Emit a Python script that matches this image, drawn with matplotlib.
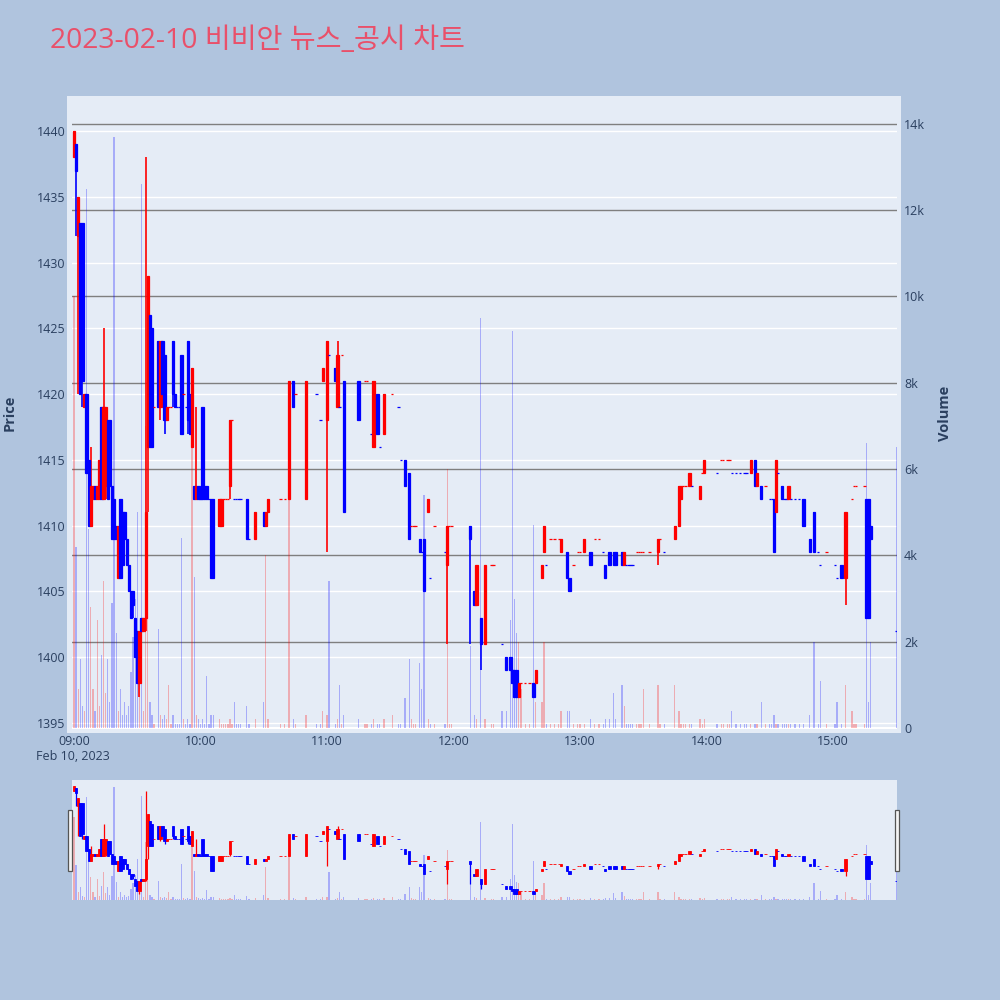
import matplotlib
matplotlib.use('Agg')
import matplotlib.pyplot as plt
from matplotlib.patches import Rectangle
from matplotlib.lines import Line2D
from matplotlib.transforms import blended_transform_factory
import numpy as np
import pandas as pd

plt.rcParams['font.family'] = ['Open Sans', 'Noto Sans CJK KR', 'DejaVu Sans']

# 1분봉 (09:00 기준 분 단위)
candle_min = [0, 1, 2, 3, 4, 5, 6, 7, 8, 9,
              10, 11, 12, 13, 14, 15, 16, 17, 18, 19,
              20, 21, 22, 23, 24, 25, 26, 27, 28, 29,
              30, 31, 32, 33, 34, 35, 36, 37, 40, 41,
              42, 43, 44, 47, 48, 51, 54, 55, 56, 57,
              58, 59, 61, 62, 63, 65, 66, 69, 70, 74,
              82, 86, 90, 91, 92, 102, 104, 110, 118, 120,
              124, 125, 128, 135, 142, 144, 147, 157, 159, 164,
              166, 168, 177, 188, 190, 191, 193, 195, 205, 207,
              208, 209, 210, 211, 218, 219, 222, 223, 231, 234,
              235, 242, 245, 252, 254, 256, 257, 260, 261, 277,
              285, 287, 288, 292, 297, 299, 321, 323, 324, 326,
              332, 333, 336, 339, 346, 349, 351, 364, 366, 376,
              377, 378]
candle_open = [1438, 1439, 1432, 1433, 1433, 1419, 1420, 1415, 1410, 1412,
               1413, 1412, 1412, 1419, 1412, 1413, 1418, 1418, 1413, 1412,
               1410, 1406, 1412, 1411, 1411, 1409, 1407, 1405, 1405, 1403,
               1402, 1398, 1403, 1402, 1403, 1416, 1426, 1425, 1424, 1419,
               1424, 1423, 1418, 1424, 1420, 1423, 1424, 1420, 1416, 1413,
               1412, 1413, 1419, 1413, 1413, 1412, 1412, 1410, 1410, 1413,
               1412, 1409, 1411, 1410, 1411, 1412, 1421, 1412, 1421, 1418,
               1422, 1419, 1421, 1421, 1416, 1420, 1417, 1415, 1414, 1409,
               1409, 1411, 1407, 1410, 1405, 1404, 1403, 1401, 1400, 1400,
               1399, 1399, 1399, 1397, 1398, 1398, 1406, 1408, 1408, 1408,
               1406, 1408, 1408, 1407, 1408, 1408, 1408, 1408, 1407, 1408,
               1409, 1410, 1412, 1413, 1412, 1414, 1414, 1415, 1413, 1413,
               1412, 1411, 1413, 1412, 1412, 1409, 1411, 1407, 1406, 1412,
               1412, 1410]
candle_high = [1440, 1439, 1435, 1433, 1433, 1420, 1420, 1415, 1416, 1413,
               1413, 1413, 1415, 1419, 1425, 1419, 1418, 1418, 1413, 1412,
               1410, 1410, 1412, 1411, 1411, 1409, 1407, 1405, 1405, 1403,
               1402, 1402, 1403, 1403, 1438, 1429, 1426, 1425, 1424, 1424,
               1424, 1423, 1419, 1424, 1420, 1423, 1424, 1420, 1422, 1413,
               1419, 1413, 1419, 1413, 1413, 1412, 1412, 1412, 1412, 1418,
               1412, 1411, 1411, 1411, 1412, 1421, 1421, 1421, 1422, 1424,
               1422, 1424, 1421, 1421, 1421, 1420, 1420, 1415, 1414, 1409,
               1409, 1412, 1410, 1410, 1405, 1407, 1403, 1407, 1400, 1400,
               1399, 1399, 1399, 1398, 1398, 1399, 1407, 1410, 1409, 1408,
               1406, 1409, 1408, 1407, 1408, 1408, 1408, 1408, 1408, 1409,
               1410, 1413, 1413, 1414, 1413, 1415, 1415, 1415, 1414, 1413,
               1412, 1415, 1413, 1413, 1412, 1409, 1411, 1407, 1411, 1412,
               1412, 1410]
candle_low = [1438, 1432, 1420, 1420, 1419, 1419, 1414, 1410, 1410, 1412,
              1412, 1412, 1412, 1412, 1412, 1412, 1412, 1413, 1409, 1409,
              1409, 1406, 1406, 1407, 1409, 1407, 1405, 1403, 1403, 1400,
              1398, 1397, 1402, 1402, 1402, 1411, 1416, 1416, 1419, 1418,
              1420, 1417, 1418, 1419, 1419, 1417, 1417, 1417, 1416, 1412,
              1412, 1412, 1412, 1412, 1412, 1406, 1406, 1410, 1410, 1412,
              1409, 1409, 1410, 1410, 1411, 1412, 1419, 1412, 1421, 1408,
              1421, 1419, 1411, 1418, 1416, 1417, 1417, 1413, 1409, 1408,
              1405, 1411, 1401, 1401, 1404, 1404, 1399, 1401, 1399, 1399,
              1398, 1397, 1397, 1397, 1397, 1398, 1406, 1408, 1408, 1406,
              1405, 1408, 1407, 1406, 1407, 1407, 1407, 1407, 1407, 1407,
              1409, 1410, 1412, 1413, 1412, 1414, 1414, 1413, 1413, 1412,
              1408, 1411, 1412, 1412, 1410, 1408, 1408, 1406, 1404, 1403,
              1403, 1409]
candle_close = [1440, 1437, 1435, 1420, 1421, 1420, 1414, 1410, 1413, 1413,
                1412, 1413, 1415, 1412, 1419, 1419, 1412, 1413, 1409, 1409,
                1409, 1410, 1406, 1407, 1409, 1407, 1405, 1403, 1404, 1400,
                1398, 1402, 1402, 1403, 1411, 1429, 1416, 1416, 1419, 1424,
                1420, 1418, 1419, 1420, 1419, 1417, 1418, 1417, 1422, 1412,
                1413, 1412, 1412, 1412, 1412, 1406, 1406, 1412, 1412, 1418,
                1409, 1411, 1410, 1411, 1412, 1421, 1419, 1421, 1422, 1424,
                1421, 1423, 1411, 1418, 1421, 1417, 1420, 1413, 1409, 1408,
                1405, 1412, 1410, 1409, 1404, 1407, 1401, 1407, 1399, 1399,
                1398, 1397, 1397, 1398, 1397, 1399, 1407, 1410, 1409, 1406,
                1405, 1409, 1407, 1406, 1407, 1407, 1407, 1407, 1408, 1409,
                1410, 1413, 1413, 1414, 1413, 1415, 1415, 1413, 1414, 1412,
                1408, 1415, 1412, 1413, 1410, 1408, 1408, 1406, 1411, 1403,
                1403, 1409]
candle_vol = [10000, 4200, 900, 1600, 500, 400, 12500, 4600, 2800, 900,
              400, 2500, 500, 1700, 3400, 800, 1600, 600, 2900, 13700,
              2200, 400, 900, 300, 600, 300, 500, 1300, 2100, 3000,
              5000, 1100, 12600, 400, 7000, 5000, 600, 300, 2300, 300,
              200, 300, 200, 300, 100, 4400, 200, 100, 7000, 3500,
              300, 200, 200, 100, 1200, 300, 300, 200, 100, 200,
              500, 200, 600, 4000, 200, 6000, 200, 300, 400, 300,
              100, 200, 300, 200, 200, 100, 200, 700, 1600, 1500,
              5400, 200, 6000, 1900, 300, 200, 9500, 200, 400, 2500,
              9200, 3000, 2200, 2000, 4700, 600, 600, 2000, 400, 400,
              400, 100, 200, 200, 200, 800, 200, 1000, 500, 1000,
              1000, 400, 100, 100, 200, 200, 100, 100, 100, 600,
              300, 100, 100, 100, 100, 300, 2000, 100, 1000, 6600,
              600, 2000]

# 시가 = 종가 인 봉 (점)
doji_min = [38, 45, 46, 49, 50, 52, 53, 60, 64, 71,
            72, 73, 75, 76, 77, 78, 79, 83, 98, 100,
            105, 115, 117, 121, 126, 127, 138, 139, 141, 145,
            151, 154, 155, 160, 161, 162, 165, 169, 171, 176,
            178, 179, 198, 199, 203, 212, 214, 216, 224, 226,
            228, 230, 237, 239, 240, 247, 249, 251, 262, 263,
            264, 265, 267, 268, 269, 270, 273, 278, 280, 289,
            290, 293, 298, 305, 307, 308, 310, 311, 312, 314,
            316, 318, 319, 328, 330, 331, 334, 337, 338, 340,
            342, 344, 353, 354, 357, 361, 362, 369, 370, 371,
            375, 390]
doji_price = [1419, 1419, 1419, 1419, 1419, 1420, 1419, 1412, 1412, 1412,
              1412, 1412, 1418, 1412, 1412, 1412, 1412, 1409, 1412, 1412,
              1420, 1420, 1418, 1423, 1419, 1423, 1421, 1421, 1417, 1416,
              1420, 1419, 1415, 1410, 1410, 1410, 1408, 1406, 1410, 1408,
              1410, 1410, 1407, 1407, 1401, 1398, 1398, 1398, 1407, 1409,
              1409, 1409, 1407, 1408, 1408, 1409, 1409, 1408, 1407, 1407,
              1407, 1407, 1408, 1408, 1408, 1408, 1408, 1409, 1408, 1413,
              1413, 1413, 1414, 1414, 1415, 1415, 1415, 1415, 1414, 1414,
              1414, 1414, 1414, 1413, 1412, 1412, 1414, 1412, 1412, 1412,
              1412, 1412, 1408, 1407, 1408, 1407, 1406, 1412, 1413, 1413,
              1413, 1402]
doji_vol = [100, 1000, 100, 100, 100, 200, 100, 100, 100, 100,
            100, 100, 100, 600, 100, 100, 100, 100, 100, 100,
            100, 100, 100, 3400, 1000, 100, 100, 100, 100, 100,
            300, 100, 100, 200, 100, 100, 900, 100, 100, 100,
            100, 100, 100, 100, 400, 900, 100, 100, 100, 100,
            100, 100, 100, 100, 100, 100, 100, 100, 100, 100,
            100, 100, 100, 100, 100, 900, 100, 100, 100, 100,
            100, 100, 100, 100, 100, 100, 100, 100, 400, 100,
            100, 100, 100, 100, 100, 100, 100, 100, 100, 100,
            100, 100, 100, 1100, 100, 100, 600, 400, 100, 100,
            100, 6500]

x_tick_min = [0, 60, 120, 180, 240, 300, 360]
x_tick_lbl = ['09:00', '10:00', '11:00', '12:00', '13:00', '14:00', '15:00']
price_ticks = [1395, 1400, 1405, 1410, 1415, 1420, 1425, 1430, 1435, 1440]
vol_ticks = [0, 2000, 4000, 6000, 8000, 10000, 12000, 14000]
vol_tick_lbl = ['0', '2k', '4k', '6k', '8k', '10k', '12k', '14k']

# 데이터 합치기
df = pd.concat([
    pd.DataFrame({'minute': candle_min, 'open': candle_open, 'high': candle_high,
                  'low': candle_low, 'close': candle_close, 'volume': candle_vol}),
    pd.DataFrame({'minute': doji_min, 'open': doji_price, 'high': doji_price,
                  'low': doji_price, 'close': doji_price, 'volume': doji_vol}),
]).sort_values('minute').reset_index(drop=True)

# 상승/하락 판정 (시가=종가면 직전 종가와 비교, 같으면 이전 방향 유지)
up_list = []
prev_c, up = None, True
for o, c in zip(df['open'], df['close']):
    if c == o:
        if prev_c is not None and c != prev_c:
            up = c > prev_c
    else:
        up = c > o
    up_list.append(up)
    prev_c = c
df['up'] = up_list

RED, BLUE = '#ff0000', '#0000ff'
candle_colors = np.where(df['up'], RED, BLUE)
vol_colors = [(1, 0, 0, 0.27) if u else (0, 0, 1, 0.27) for u in df['up']]

BG = '#b0c4de'
PLOT_BG = '#e5ecf6'
TXT = '#2a3f5f'
X_LIM = (-0.95, 390.4)
P_LIM = (1394.54, 1442.36)
V_LIM = (-23, 14551)


def draw(ax_p, ax_v, wick_lw, edge_lw, body_w):
    ax_v.bar(df['minute'], df['volume'], width=0.6, color=vol_colors, zorder=2)
    ax_p.vlines(df['minute'], df['low'], df['high'], colors=candle_colors, lw=wick_lw, zorder=2)
    ax_p.bar(df['minute'], df['close'] - df['open'], bottom=df['open'], width=body_w,
             color=candle_colors, edgecolor=candle_colors, linewidth=edge_lw, zorder=3)


fig = plt.figure(figsize=(10, 10), dpi=100, facecolor=BG)
fig.add_artist(Rectangle((0.067, 1 - 0.733), 0.834, 0.637, transform=fig.transFigure,
                         facecolor=PLOT_BG, edgecolor='none', zorder=0))

# 메인 차트
ax_v = fig.add_axes([0.072, 0.271, 0.825, 0.629])
ax_p = ax_v.twinx()
ax_v.set_zorder(1)
ax_p.set_zorder(2)
ax_v.set_facecolor(PLOT_BG)
ax_p.patch.set_visible(False)

ax_v.set_xlim(X_LIM)
ax_v.set_ylim(V_LIM)
ax_p.set_ylim(P_LIM)

# 가격 그리드 (흰색), 거래량 그리드 (회색)
tr = blended_transform_factory(ax_v.transAxes, ax_p.transData)
for p in price_ticks:
    ax_v.add_line(Line2D([0, 1], [p, p], transform=tr, color='white', lw=1.0, zorder=0.5))
for v in vol_ticks[1:]:
    ax_v.axhline(v, color='#7f7f7f', lw=1.0, zorder=0.6)
ax_v.axhline(0, color='white', lw=1.5, zorder=0.7)

draw(ax_p, ax_v, wick_lw=1.2, edge_lw=0.9, body_w=1.1)

ax_p.yaxis.tick_left()
ax_v.yaxis.tick_right()
ax_p.set_yticks(price_ticks)
ax_p.set_yticklabels([str(p) for p in price_ticks])
ax_v.set_yticks(vol_ticks)
ax_v.set_yticklabels(vol_tick_lbl)
ax_v.set_xticks(x_tick_min)
ax_v.set_xticklabels(x_tick_lbl)
ax_p.tick_params(axis='y', length=0, pad=4.5, labelsize=9, labelcolor=TXT)
ax_v.tick_params(axis='y', length=0, pad=5, labelsize=9, labelcolor=TXT)
ax_v.tick_params(axis='x', length=0, pad=4, labelsize=9, labelcolor=TXT)
for a in (ax_v, ax_p):
    for s in a.spines.values():
        s.set_visible(False)

fig.text(0.073, 1 - 0.757, 'Feb 10, 2023', ha='center', va='center', fontsize=9, color=TXT)
fig.text(0.010, 1 - 0.413, 'Price', rotation=90, ha='center', va='center',
         fontsize=10.5, fontweight='bold', color=TXT)
fig.text(0.945, 1 - 0.413, 'Volume', rotation=90, ha='center', va='center',
         fontsize=10.5, fontweight='bold', color=TXT)
fig.text(0.05, 1 - 0.041, '2023-02-10 비비안 뉴스_공시 차트', ha='left', va='center',
         fontsize=20.3, color='#e9506a', family=['Open Sans', 'Noto Sans CJK KR', 'DejaVu Sans'])

# 레인지 슬라이더
sv = fig.add_axes([0.072, 0.100, 0.825, 0.120])
sp = sv.twinx()
sv.set_facecolor(PLOT_BG)
sp.patch.set_visible(False)
sv.set_xlim(X_LIM)
sv.set_ylim(V_LIM)
sp.set_ylim(P_LIM)
draw(sp, sv, wick_lw=0.9, edge_lw=0.6, body_w=1.1)
for a in (sv, sp):
    a.set_xticks([])
    a.set_yticks([])
    for s in a.spines.values():
        s.set_visible(False)

for hx in (0.068, 0.895):
    fig.add_artist(Rectangle((hx, 1 - 0.871), 0.004, 0.061, transform=fig.transFigure,
                             facecolor='#f4f4f4', edgecolor='#555555', lw=0.9, zorder=5))

fig.savefig('out.png', dpi=100, facecolor=BG)
